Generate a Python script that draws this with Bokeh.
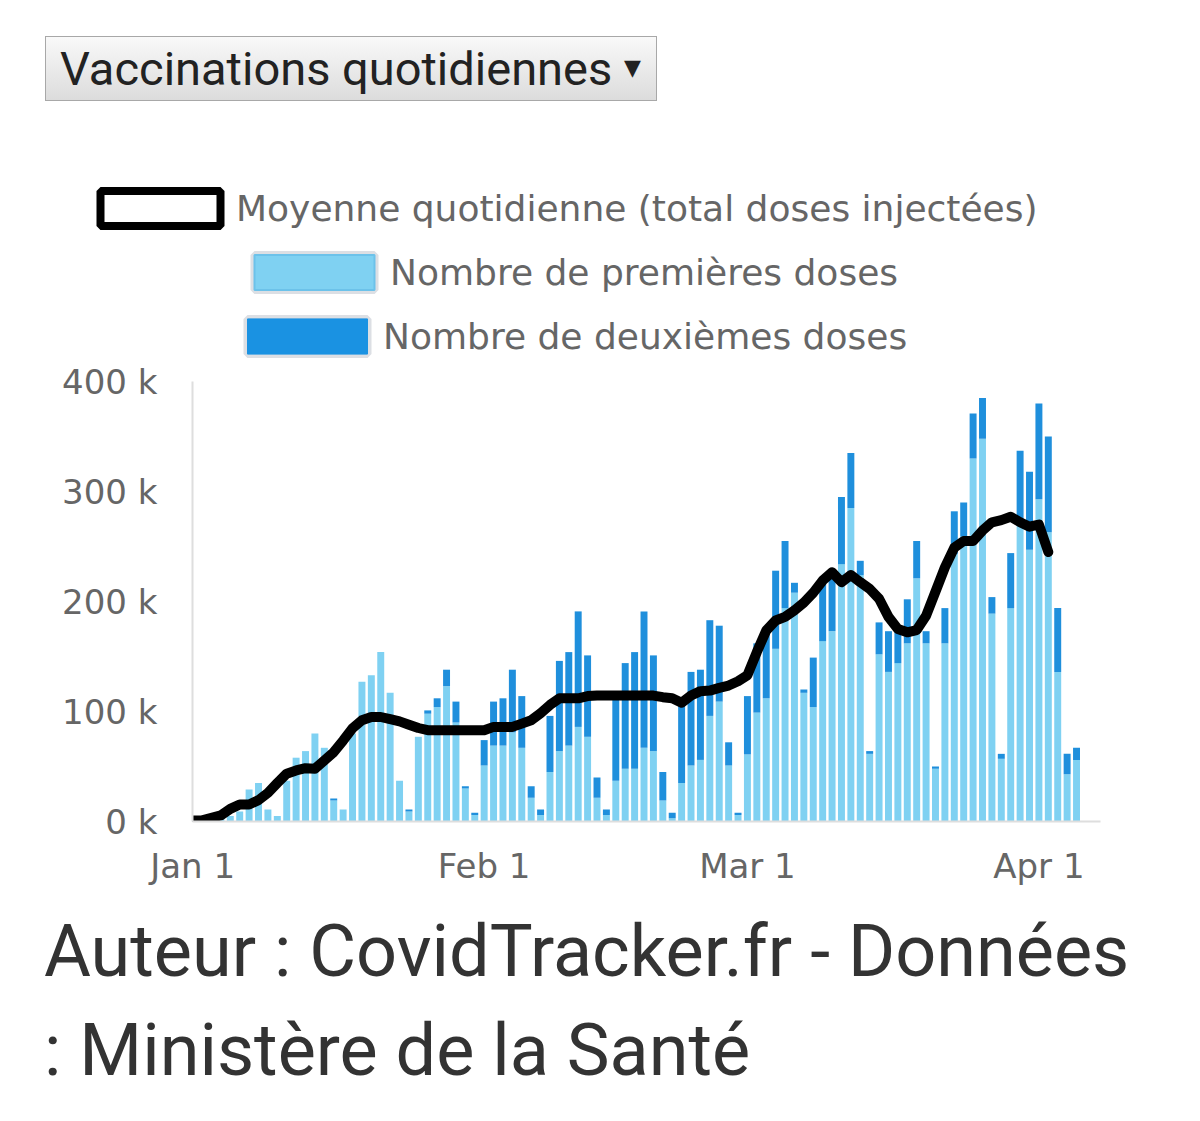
import pandas as pd
from bokeh.plotting import figure
from bokeh.models import (ColumnDataSource, Range1d, FixedTicker, DatetimeTickFormatter,
                          Legend, LegendItem, Div)
from bokeh.layouts import column
from bokeh.embed import file_html
from bokeh.resources import INLINE

# ---------------- data (values in thousands) ----------------
start_date = "2021-01-01"
premieres_k = [0.5, 1, 2, 3, 5, 9, 29, 35, 11, 5,
               37, 58, 64, 80, 67, 19, 11, 80, 127, 133,
               154, 117, 37, 9, 77, 98, 104, 123, 90, 30,
               6, 51, 69, 69, 81, 67, 21.5, 6, 45, 64,
               69, 86, 77, 21.5, 6, 37, 48, 48, 67, 64,
               19, 3, 35, 51, 56, 96, 109, 51, 6, 61,
               99, 112, 157, 194, 208, 117, 104, 164, 173, 234,
               285, 224, 61.5, 152, 136, 144, 162, 221, 162, 48,
               162, 243, 259, 330, 348, 189, 57, 194, 271, 247,
               293, 263, 136, 43, 56]
deuxiemes_k = [0, 0, 0, 0, 0, 0, 0, 0, 0, 0,
               0, 0, 0, 0, 0, 2, 0, 0, 0, 0,
               0, 0, 0, 2, 0, 3, 8, 15, 19, 2,
               2, 23, 40, 43, 57, 47, 10.5, 5, 51, 82,
               85, 105, 74, 18.5, 5, 75, 96, 106, 124, 87,
               26, 5, 71, 85, 82, 87, 69, 21, 2, 53,
               63, 63, 71, 61, 9, 3, 45, 55, 53, 61,
               50, 13, 2.5, 29, 37, 29, 40, 34, 11, 2,
               32, 39, 31, 41, 37, 15, 4.5, 50, 66, 71,
               87, 87, 58, 18.5, 11]
moyenne_k = [1, 1, 3.3, 5.5, 11.5, 15.5, 15.5, 19.4, 26, 35,
             43.5, 46.4, 48.5, 48, 55.5, 63, 73.6, 84.8, 92, 95,
             95, 93, 91, 88, 85, 83, 83, 83, 83, 83,
             83, 83, 86, 86, 86, 89, 92, 98.5, 106, 112,
             112, 112, 114, 114.5, 114.5, 114.5, 114.5, 114.5, 114.5, 114.5,
             113, 112, 108, 114.5, 118.5, 119, 121.5, 123.6, 127.5, 133,
             154, 173.6, 182.7, 186, 192, 199, 208, 219, 226.6, 217.6,
             224, 217.6, 211.5, 202.5, 186, 175, 172, 174, 187, 209,
             231, 249, 255, 255, 264.5, 272, 274, 277, 272, 268,
             270, 245]
x_tick_dates = ["2021-01-01", "2021-02-01", "2021-03-01", "2021-04-01"]
y_ticks = [0, 100000, 200000, 300000, 400000]
y_tick_labels = ["0 k", "100 k", "200 k", "300 k", "400 k"]

label_line = "Moyenne quotidienne (total doses injectées)"
label_first = "Nombre de premières doses"
label_second = "Nombre de deuxièmes doses"
title_text = "Vaccinations quotidiennes"
footer_text = "Auteur : CovidTracker.fr - Données : Ministère de la Santé"

# ---------------- derived ----------------
DAY = 86400000.0
NAN = float("nan")
dates = pd.date_range(start_date, periods=len(premieres_k), freq="D")
first = [v * 1000 for v in premieres_k]
second = [v * 1000 for v in deuxiemes_k]
total = [a + b for a, b in zip(first, second)]
bar_src = ColumnDataSource(dict(date=dates, first=first, total=total))
line_src = ColumnDataSource(dict(date=dates[:len(moyenne_k)], avg=[v * 1000 for v in moyenne_k]))

t0 = pd.Timestamp(start_date).value / 1e6

LIGHT = "#7fd1f2"
DARK = "#1f8fdc"
TXT = "#666666"

# ---------------- legend figure (Chart.js-like stacked, centred rows) ----------------
lf = figure(width=1184, height=230, output_backend="svg", toolbar_location=None,
            min_border=0, min_border_left=0, min_border_right=0,
            min_border_top=0, min_border_bottom=0,
            x_axis_location=None, y_axis_location=None,
            x_range=Range1d(0, 1), y_range=Range1d(0, 1))
lf.outline_line_color = None
lf.xgrid.visible = False
lf.ygrid.visible = False

proxy = ColumnDataSource(dict(l=[NAN], r=[NAN], t=[NAN], b=[NAN]))
q_line = lf.quad(left="l", right="r", top="t", bottom="b", source=proxy,
                 fill_color="white", line_color="black", line_width=8)
q_first_bg = lf.quad(left="l", right="r", top="t", bottom="b", source=proxy,
                     fill_color=None, line_color="#dcdfe4", line_width=8)
q_first = lf.quad(left="l", right="r", top="t", bottom="b", source=proxy,
                  fill_color=LIGHT, line_color="#6cc2ea", line_width=2)
q_second_bg = lf.quad(left="l", right="r", top="t", bottom="b", source=proxy,
                      fill_color=None, line_color="#dcdfe4", line_width=8)
q_second = lf.quad(left="l", right="r", top="t", bottom="b", source=proxy,
                   fill_color="#1a92e2", line_color="#1a92e2", line_width=1)


def make_legend(label, rends, loc):
    lg = Legend(items=[LegendItem(label=label, renderers=rends)], location=loc,
                orientation="vertical", glyph_width=150, glyph_height=44,
                padding=0, margin=0, label_standoff=1, spacing=0,
                label_text_font="DejaVu Sans", label_text_font_size="36px",
                label_text_color=TXT, border_line_color=None,
                background_fill_alpha=0)
    lf.add_layout(lg, "center")


make_legend(label_line, [q_line], (77, 130))
make_legend(label_first, [q_first_bg, q_first], (231, 66))
make_legend(label_second, [q_second_bg, q_second], (224, 2))

# ---------------- main chart ----------------
p = figure(width=1184, height=540, x_axis_type="datetime",
           output_backend="svg", toolbar_location=None,
           min_border_left=184, min_border_right=92,
           min_border_top=21, min_border_bottom=79)
p.x_range = Range1d(t0 - 0.02 * DAY, t0 + 96.55 * DAY)
p.y_range = Range1d(0, 400000)
p.outline_line_color = None
p.xgrid.visible = False
p.ygrid.visible = False

for fig in (lf, p):
    try:
        fig.frame_align = False
    except Exception:
        pass

p.vbar(x="date", top="first", bottom=0, width=0.74 * DAY, source=bar_src,
       fill_color=LIGHT, line_color=None)
p.vbar(x="date", top="total", bottom="first", width=0.74 * DAY, source=bar_src,
       fill_color=DARK, line_color=None)
p.line(x="date", y="avg", source=line_src, line_color="black", line_width=10,
       line_cap="round", line_join="round")

for ax in (p.xaxis[0], p.yaxis[0]):
    ax.axis_line_color = "#dedede"
    ax.axis_line_width = 2
    ax.major_tick_line_color = None
    ax.minor_tick_line_color = None
    ax.major_label_text_font = "DejaVu Sans"
    ax.major_label_text_font_size = "34px"
    ax.major_label_text_color = TXT
p.yaxis.ticker = FixedTicker(ticks=y_ticks)
p.yaxis.major_label_overrides = {t: l for t, l in zip(y_ticks, y_tick_labels)}
p.yaxis.major_label_standoff = 29
p.xaxis.ticker = FixedTicker(ticks=[pd.Timestamp(d).value / 1e6 for d in x_tick_dates])
fmt = "%b %-d"
p.xaxis.formatter = DatetimeTickFormatter(days=fmt, months=fmt, years=fmt, hours=fmt)
p.xaxis.major_label_standoff = 18

# ---------------- header / footer ----------------
top_html = (
    '<div style="position:absolute; left:37px; top:28px; width:612px; height:65px; '
    'box-sizing:border-box; border:1px solid #a8a8a8; '
    'background:linear-gradient(#f9f9f9, #dcdcdc); font-family:Roboto; font-size:47px; '
    'line-height:63px; color:#222222; padding-left:14px; white-space:nowrap;">'
    + title_text +
    ' <span style="position:absolute; left:578px; top:20px; font-family:\'DejaVu Sans\'; '
    'font-size:22px; line-height:22px; color:#222222;">&#9660;</span></div>'
)
top_div = Div(text=top_html, width=1184, height=122, margin=0,
              styles={"position": "relative"})

foot_html = (
    '<div style="padding-left:36px; padding-top:2px; font-family:Roboto; font-size:72px; '
    'line-height:99px; color:#333333; width:1130px;">' + footer_text + '</div>'
)
foot_div = Div(text=foot_html, width=1184, height=205, margin=0)

layout = column(top_div, lf, p, foot_div, spacing=0, margin=(8, 0, 0, 8))

open("out.html", "w").write(file_html(layout, INLINE))
